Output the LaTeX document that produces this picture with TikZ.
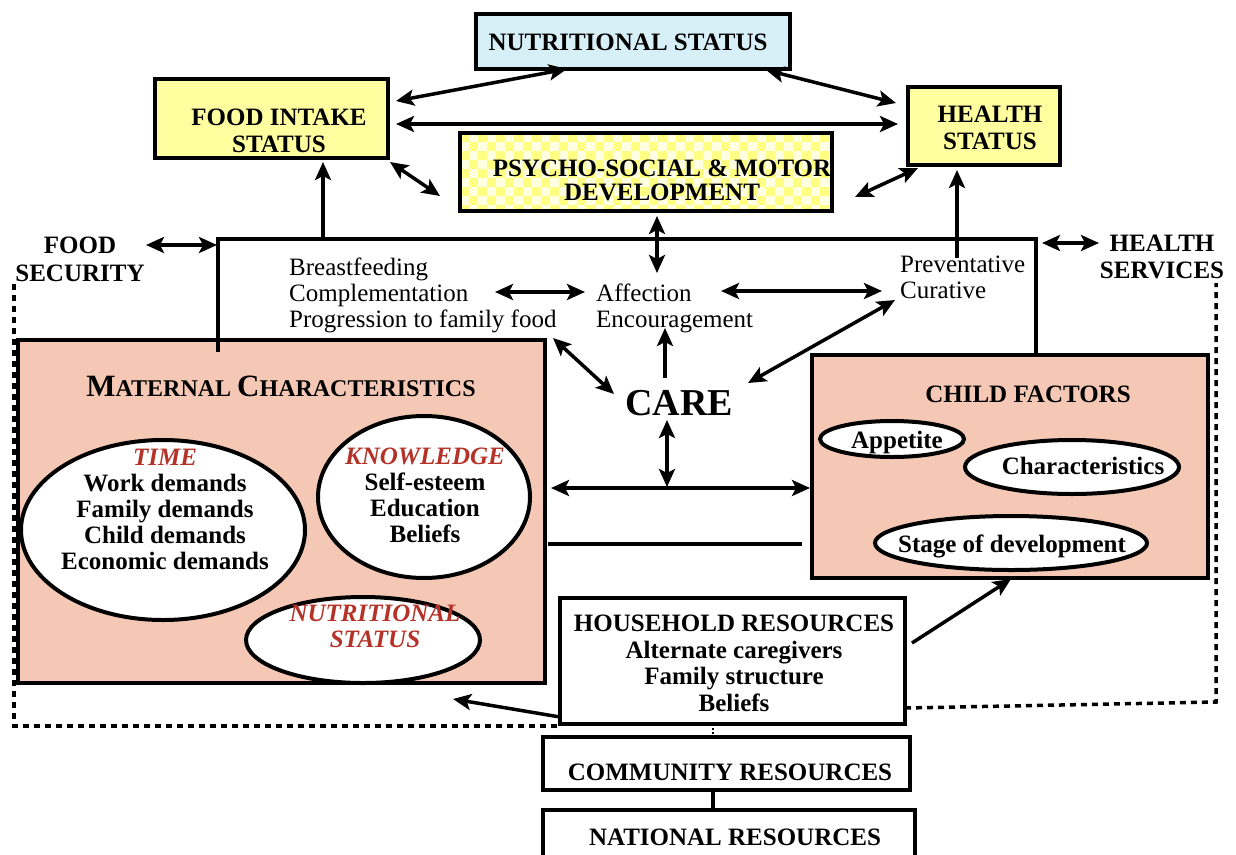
\documentclass[tikz,border=0pt]{standalone}
\usepackage{fontspec}
\setmainfont{Liberation Serif}
\usetikzlibrary{arrows.meta,shapes.geometric}

\definecolor{boxyellow}{RGB}{255,255,160}
\definecolor{boxblue}{RGB}{215,240,248}
\definecolor{peach}{RGB}{244,200,180}
\definecolor{tred}{RGB}{180,50,40}
\definecolor{chkdark}{RGB}{255,255,130}
\definecolor{chklight}{RGB}{255,255,225}

\tikzset{
  frame/.style={draw, line width=4pt, inner sep=0pt},
  oval/.style={ellipse, draw, line width=4pt, fill=white, inner sep=0pt},
  lbl/.style={inner sep=0pt, align=center, font=\fontsize{25}{26}\selectfont\bfseries},
  plain/.style={inner sep=0pt, align=left, font=\fontsize{25}{26}\selectfont},
  link/.style={line width=3.5pt},
  dots/.style={line width=3.5pt, dash pattern=on 6pt off 5pt},
}

\begin{document}
\begin{tikzpicture}[x=1pt, y=-1pt, >={Stealth[length=18pt,width=16pt,inset=4pt]}]
\useasboundingbox (0,0) rectangle (1236,854);
\clip (0,0) rectangle (1236,854);
\fill[white] (0,0) rectangle (1236,854);

% ---------- outcome boxes ----------
\node[frame, fill=boxblue, minimum width=314pt, minimum height=55pt] (ns) at (633,41.5) {};
\node[lbl, anchor=base] (nsT) at (628,50) {NUTRITIONAL STATUS};

\node[frame, fill=boxyellow, minimum width=233pt, minimum height=79pt] (fi) at (271.5,118.5) {};
\node[lbl, anchor=north, font=\fontsize{25}{27}\selectfont\bfseries] (fiT) at (279,108.5) {FOOD INTAKE\\STATUS};

\node[frame, fill=boxyellow, minimum width=152pt, minimum height=78pt] (hs) at (984,126) {};
\node[lbl, anchor=north, font=\fontsize{25}{27}\selectfont\bfseries] (hsT) at (990,106) {HEALTH\\STATUS};

% psycho-social box with checkered fill
\fill[chklight] (460,133) rectangle (832,211);
\begin{scope}
  \clip (460,133) rectangle (832,211);
  \foreach \i in {0,...,41}{\foreach \j in {0,...,8}{
    \ifodd\numexpr\i+\j\relax\else
      \fill[chkdark] (460+\i*9,133+\j*9) rectangle ++(9,9);
    \fi}}
  \node[lbl, anchor=north, font=\fontsize{25}{24}\selectfont\bfseries] (psT) at (662,160) {PSYCHO-SOCIAL \& MOTOR\\DEVELOPMENT};
\end{scope}
\node[frame, minimum width=372pt, minimum height=78pt] (ps) at (646,172) {};

% ---------- maternal characteristics ----------
\node[frame, fill=peach, minimum width=527pt, minimum height=343pt] (mat) at (281.5,511.5) {};
\node[lbl, anchor=base] (matT) at (281,396)
  {{\fontsize{31}{31}\selectfont M}{\fontsize{24}{26}\selectfont ATERNAL }{\fontsize{31}{31}\selectfont C}{\fontsize{24}{26}\selectfont HARACTERISTICS}};

\node[oval, minimum width=284pt, minimum height=180pt] (time) at (163,530) {};
\node[lbl, anchor=north] (timeT) at (165,449)
  {\textcolor{tred}{\itshape TIME}\\Work demands\\Family demands\\Child demands\\Economic demands};

\node[oval, minimum width=212pt, minimum height=162pt] (know) at (424,497) {};
\node[lbl, anchor=north] (knowT) at (425,448)
  {\textcolor{tred}{\itshape KNOWLEDGE}\\Self-esteem\\Education\\Beliefs};

\node[oval, minimum width=234pt, minimum height=86pt] (mns) at (363,640) {};
\node[lbl, anchor=north, text=tred, font=\fontsize{25}{26}\selectfont\bfseries\itshape] (mnsT) at (375,605)
  {NUTRITIONAL\\STATUS};

% ---------- child factors ----------
\node[frame, fill=peach, minimum width=396pt, minimum height=223pt] (cf) at (1010,466.5) {};
\node[lbl, anchor=base] (cfT) at (1028,402) {CHILD FACTORS};
\node[oval, minimum width=144pt, minimum height=36pt] (app) at (892,439) {};
\node[lbl, anchor=base] (appT) at (897,448) {Appetite};
\node[oval, minimum width=214pt, minimum height=54pt] (chr) at (1072,467) {};
\node[lbl, anchor=base] (chrT) at (1083,474) {Characteristics};
\node[oval, minimum width=272pt, minimum height=54pt] (stg) at (1011,543) {};
\node[lbl, anchor=base] (stgT) at (1012,552) {Stage of development};

% ---------- resources ----------
\node[frame, fill=white, minimum width=345pt, minimum height=126pt] (hh) at (732.5,661) {};
\node[lbl, anchor=north, font=\fontsize{25}{26.5}\selectfont\bfseries] (hhT) at (734,615)
  {HOUSEHOLD RESOURCES\\Alternate caregivers\\Family structure\\Beliefs};
\node[frame, fill=white, minimum width=367pt, minimum height=53pt] (cr) at (726.5,763.5) {};
\node[lbl, anchor=base] (crT) at (730,780) {COMMUNITY RESOURCES};
\node[frame, fill=white, minimum width=372pt, minimum height=60pt] (nr) at (729,840) {};
\node[lbl, anchor=base] (nrT) at (735,845) {NATIONAL RESOURCES};

% ---------- side labels ----------
\node[lbl, anchor=north, font=\fontsize{25}{28}\selectfont\bfseries] (fs) at (80,237) {FOOD\\SECURITY};
\node[lbl, anchor=north, font=\fontsize{25}{27}\selectfont\bfseries] (hsv) at (1162,235) {HEALTH\\SERVICES};

% ---------- care practices ----------
\node[plain, anchor=north west] (feed) at (289,258) {Breastfeeding\\Complementation\\Progression to family food};
\node[plain, anchor=north west] (aff) at (596,284) {Affection\\Encouragement};
\node[plain, anchor=north west] (prev) at (900,256) {Preventative\\Curative};
\node[inner sep=0pt, anchor=base, font=\fontsize{38}{40}\selectfont\bfseries] (care) at (679,415) {CARE};

% ---------- connector end points ----------
\coordinate (lineL) at (218,239);
\coordinate (lineR) at (1036,239);
\coordinate (matTop) at (218,352);
\coordinate (cfTop) at (1036,357);
\coordinate (fiUpS) at (323,239);
\coordinate (fiUpE) at (323,162);
\coordinate (hsUpS) at (957,258);
\coordinate (hsUpE) at (957,170);
\coordinate (psDnA) at (657,216);
\coordinate (psDnB) at (657,273);
\coordinate (fsA) at (146,245);
\coordinate (fsB) at (217,245);
\coordinate (hsvA) at (1042,243);
\coordinate (hsvB) at (1099,243);
\coordinate (fiNsA) at (396,101);
\coordinate (fiNsB) at (567,69);
\coordinate (nsHsA) at (766,70);
\coordinate (nsHsB) at (896,103);
\coordinate (fiHsA) at (396,124);
\coordinate (fiHsB) at (898,124);
\coordinate (fiPsA) at (390,162);
\coordinate (fiPsB) at (440,196);
\coordinate (psHsA) at (855,197);
\coordinate (psHsB) at (918,168);
\coordinate (feedAffA) at (495,292);
\coordinate (feedAffB) at (585,292);
\coordinate (affPrevA) at (721,291);
\coordinate (affPrevB) at (882,291);
\coordinate (feedCareA) at (553,338);
\coordinate (feedCareB) at (614,394);
\coordinate (careAffA) at (665,378);
\coordinate (careAffB) at (665,328);
\coordinate (carePrevA) at (748,383);
\coordinate (carePrevB) at (895,300);
\coordinate (careDnA) at (667,420);
\coordinate (careDnB) at (667,487);
\coordinate (midA) at (551,488);
\coordinate (midB) at (810,488);
\coordinate (barA) at (548,544);
\coordinate (barB) at (802,544);
\coordinate (hhMatS) at (560,717);
\coordinate (hhMatE) at (453,699);
\coordinate (hhCfS) at (912,643);
\coordinate (hhCfE) at (1011,579);
\coordinate (dotL1) at (14,284);
\coordinate (dotL2) at (14,726);
\coordinate (dotR1) at (905,708);
\coordinate (dotR2) at (1216,702);
\coordinate (dotR3) at (1216,283);
\coordinate (tickA) at (713,724);
\coordinate (tickB) at (713,737);
\coordinate (natA) at (713,790);
\coordinate (natB) at (713,810);

% ---------- dotted environment border ----------
\draw[dots] (dotL1) -- (dotL2) -- (dotL2 -| hh.west);
\draw[dots] (dotR1) -- (dotR2) -- (dotR3);

% ---------- care frame lines ----------
\draw[link] (matTop) -- (lineL) -- (lineR) -- (cfTop);

% ---------- arrows ----------
\draw[link, <->] (fiNsA) -- (fiNsB);
\draw[link, <->] (nsHsA) -- (nsHsB);
\draw[link, <->] (fiHsA) -- (fiHsB);
\draw[link, <->] (fiPsA) -- (fiPsB);
\draw[link, <->] (psHsA) -- (psHsB);
\draw[link, <->] (psDnA) -- (psDnB);
\draw[link, ->] (fiUpS) -- (fiUpE);
\draw[link, ->] (hsUpS) -- (hsUpE);
\draw[link, <->] (fsA) -- (fsB);
\draw[link, <->] (hsvA) -- (hsvB);
\draw[link, <->] (feedAffA) -- (feedAffB);
\draw[link, <->] (affPrevA) -- (affPrevB);
\draw[link, <->] (feedCareA) -- (feedCareB);
\draw[link, ->] (careAffA) -- (careAffB);
\draw[link, <->] (carePrevA) -- (carePrevB);
\draw[link, <->] (careDnA) -- (careDnB);
\draw[link, <->] (midA) -- (midB);
\draw[link] (barA) -- (barB);
\draw[link, ->] (hhMatS) -- (hhMatE);
\draw[link, ->] (hhCfS) -- (hhCfE);

% ---------- resource links ----------
\draw[line width=2pt, dotted] (tickA) -- (tickB);
\draw[link] (natA) -- (natB);
\end{tikzpicture}
\end{document}
